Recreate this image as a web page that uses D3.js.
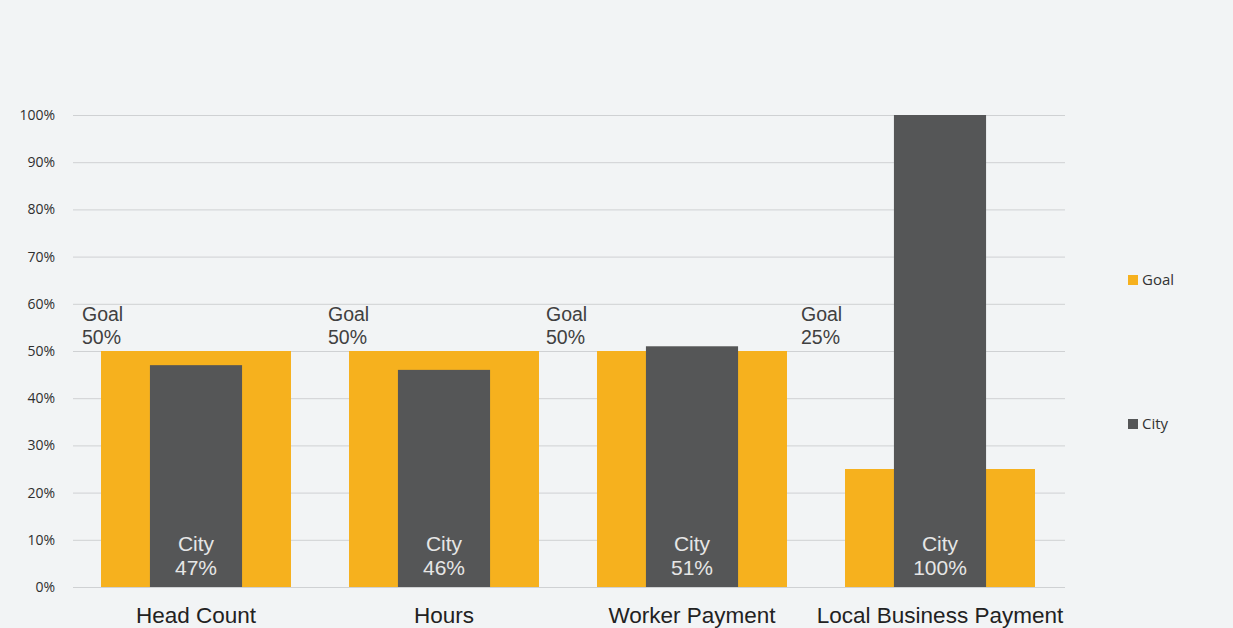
<!DOCTYPE html>
<html>
<head>
<meta charset="utf-8">
<script src="https://cdn.jsdelivr.net/npm/d3@7"></script>
<style>
  html, body { margin: 0; padding: 0; background: #f2f4f5; }
  svg { display: block; font-family: "Liberation Sans", Arial, sans-serif; }
</style>
</head>
<body>
<div id="chart"></div>
<script>
// chart data
var categories = ['Head Count', 'Hours', 'Worker Payment', 'Local Business Payment'];
var goalValues = [50, 50, 50, 25];
var cityValues = [47, 46, 51, 100];
var yTicks = [0, 10, 20, 30, 40, 50, 60, 70, 80, 90, 100];
var seriesNames = ['Goal', 'City'];

// where the goal labels sit, left of each group (px)
var goalLabelShift = [-19, -21, -51, -44];

var width = 1233;
var height = 628;
var colors = { Goal: '#f6b11e', City: '#555657' };

var svg = d3.select('#chart')
	.append('svg')
	.attr('width', width)
	.attr('height', height);

var x = d3.scaleBand()
	.domain(categories)
	.range([72, 1064])
	.paddingInner(0.234)
	.paddingOuter(0.117);

var y = d3.scaleLinear()
	.domain([0, 100])
	.range([587, 115]);

// grid lines
var yAxis = d3.axisLeft(y)
	.tickValues(yTicks)
	.tickSize(-(1065 - 73))
	.tickFormat(function (d) { return d + '%'; });

var gy = svg.append('g')
	.attr('transform', 'translate(73,0)')
	.call(yAxis);

gy.select('.domain').remove();
gy.selectAll('.tick line')
	.attr('stroke', '#cfd1d3')
	.attr('stroke-width', 1);
gy.selectAll('.tick text')
	.attr('x', -18)
	.attr('fill', '#2f2f2f')
	.style('font-size', '14px')
	.style('font-family', '"Open Sans", sans-serif');

// goal bars
svg.append('g')
	.selectAll('rect')
	.data(categories)
	.enter()
	.append('rect')
	.attr('x', function (d) { return x(d); })
	.attr('y', function (d, i) { return y(goalValues[i]); })
	.attr('width', x.bandwidth())
	.attr('height', function (d, i) { return y(0) - y(goalValues[i]); })
	.attr('fill', colors.Goal);

// city bars, narrower and centred
var cityWidth = x.bandwidth() * 0.485;

svg.append('g')
	.selectAll('rect')
	.data(categories)
	.enter()
	.append('rect')
	.attr('x', function (d) { return x(d) + (x.bandwidth() - cityWidth) / 2; })
	.attr('y', function (d, i) { return y(cityValues[i]); })
	.attr('width', cityWidth)
	.attr('height', function (d, i) { return y(0) - y(cityValues[i]); })
	.attr('fill', colors.City);

// goal labels
var goalLabels = svg.append('g')
	.selectAll('text')
	.data(categories)
	.enter()
	.append('text')
	.attr('x', function (d, i) { return x(d) + goalLabelShift[i]; })
	.attr('y', 321)
	.attr('fill', '#404040')
	.style('font-size', '19.5px');

goalLabels.append('tspan').text('Goal');
goalLabels.append('tspan')
	.attr('x', function (d, i) { return x(d) + goalLabelShift[i]; })
	.attr('dy', 23)
	.text(function (d, i) { return goalValues[i] + '%'; });

// city labels inside the bars
var cityLabels = svg.append('g')
	.selectAll('text')
	.data(categories)
	.enter()
	.append('text')
	.attr('text-anchor', 'middle')
	.attr('x', function (d) { return x(d) + x.bandwidth() / 2; })
	.attr('y', 551)
	.attr('fill', '#e6e6e6')
	.style('font-size', '21px');

cityLabels.append('tspan').text('City');
cityLabels.append('tspan')
	.attr('x', function (d) { return x(d) + x.bandwidth() / 2; })
	.attr('dy', 24)
	.text(function (d, i) { return cityValues[i] + '%'; });

// category axis labels
svg.append('g')
	.selectAll('text')
	.data(categories)
	.enter()
	.append('text')
	.attr('text-anchor', 'middle')
	.attr('x', function (d) { return x(d) + x.bandwidth() / 2; })
	.attr('y', 623)
	.attr('fill', '#222')
	.style('font-size', '22.5px')
	.text(function (d) { return d; });

// legend
var legendY = d3.scalePoint()
	.domain(seriesNames)
	.range([280, 424]);

var legend = svg.append('g')
	.selectAll('g')
	.data(seriesNames)
	.enter()
	.append('g')
	.attr('transform', function (d) { return 'translate(1128,' + legendY(d) + ')'; });

legend.append('rect')
	.attr('x', 0)
	.attr('y', -5)
	.attr('width', 10)
	.attr('height', 10)
	.attr('fill', function (d) { return colors[d]; });

legend.append('text')
	.attr('x', 14)
	.attr('dy', '0.35em')
	.attr('fill', '#333')
	.style('font-size', '15px')
	.style('font-family', '"Open Sans", sans-serif')
	.text(function (d) { return d; });
</script>
</body>
</html>
